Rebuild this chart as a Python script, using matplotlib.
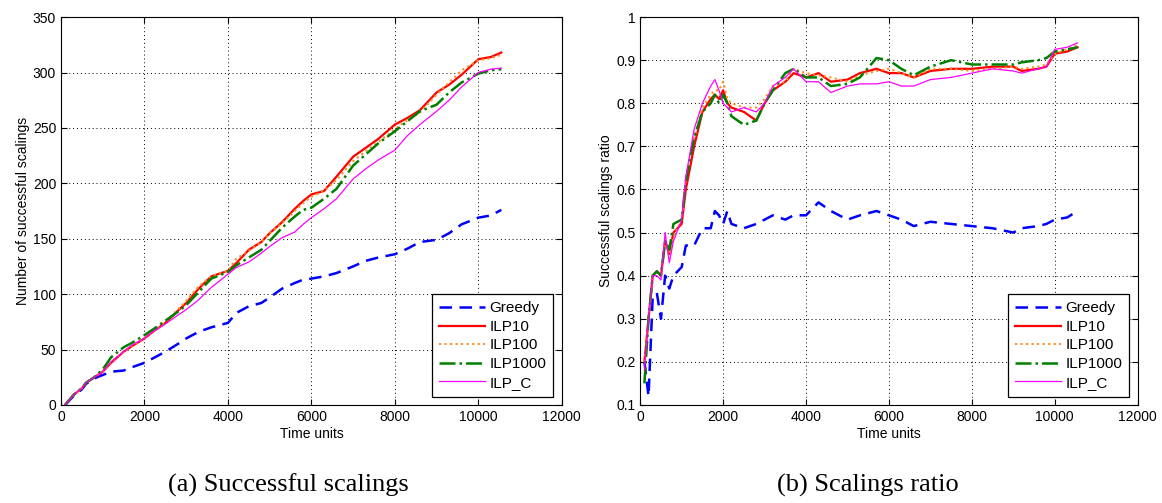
import numpy as np
import matplotlib.pyplot as plt

# values
t_cnt = [100, 300, 500, 600, 800, 1000, 1200, 1500, 1700, 2000, 2200, 2500, 2800, 3000, 3300,
         3600, 4000, 4200, 4500, 4800, 5000, 5300, 5600, 5800, 6000, 6300, 6600, 7000, 7300,
         7600, 8000, 8300, 8600, 9000, 9300, 9600, 10000, 10300, 10550]
greedy_cnt = [0, 8, 14, 19, 24, 27, 30, 31, 34, 38, 42, 48, 55, 60, 66,
              70, 74, 83, 89, 92, 97, 105, 110, 113, 114, 116, 119, 125, 130,
              133, 136, 141, 147, 149, 155, 163, 169, 171, 176]
ilp10_cnt = [0, 9, 15, 20, 25, 30, 38, 48, 53, 60, 66, 74, 85, 92, 105,
             116, 121, 128, 140, 147, 155, 165, 177, 184, 190, 193, 206, 224, 232,
             240, 253, 259, 266, 282, 289, 298, 312, 314, 318]
ilp100_cnt = [0, 9, 15, 20, 25, 30, 39, 48, 53, 60, 66, 75, 86, 94, 107,
              116, 121, 132, 139, 147, 155, 164, 175, 182, 188, 193, 203, 220, 229,
              237, 249, 257, 264, 280, 291, 302, 311, 313, 316]
ilp1000_cnt = [0, 9, 15, 20, 25, 32, 43, 52, 56, 63, 68, 76, 84, 90, 102,
               114, 120, 126, 133, 140, 148, 160, 170, 176, 178, 186, 195, 216, 226,
               236, 247, 256, 265, 271, 282, 291, 299, 302, 303]
ilpc_cnt = [0, 9, 15, 20, 25, 30, 39, 48, 54, 60, 66, 73, 81, 86, 95,
            106, 118, 124, 129, 137, 143, 151, 156, 163, 169, 177, 186, 204, 213,
            221, 230, 243, 253, 265, 275, 287, 300, 303, 304]

t_ratio = [100, 200, 300, 400, 500, 600, 700, 800, 1000, 1100, 1300, 1500, 1700, 1800, 1900,
           2000, 2100, 2200, 2500, 2800, 3000, 3200, 3500, 3700, 4000, 4300, 4600, 5000,
           5300, 5700, 6000, 6300, 6600, 7000, 7500, 8000, 8500, 9000, 9200, 9600, 9800,
           10000, 10300, 10550]
greedy_ratio = [0.20, 0.12, 0.35, 0.36, 0.30, 0.40, 0.37, 0.40, 0.42, 0.47, 0.47, 0.51, 0.51, 0.55, 0.54,
                0.52, 0.55, 0.52, 0.51, 0.52, 0.53, 0.54, 0.53, 0.54, 0.54, 0.57, 0.55, 0.53,
                0.54, 0.55, 0.54, 0.53, 0.515, 0.525, 0.52, 0.515, 0.51, 0.50, 0.51, 0.515, 0.52,
                0.53, 0.535, 0.55]
ilp10_ratio = [0.20, 0.30, 0.40, 0.41, 0.40, 0.48, 0.45, 0.50, 0.52, 0.60, 0.70, 0.78, 0.81, 0.82, 0.81,
               0.83, 0.80, 0.79, 0.78, 0.76, 0.80, 0.83, 0.85, 0.87, 0.86, 0.87, 0.85, 0.855,
               0.87, 0.88, 0.87, 0.87, 0.86, 0.875, 0.88, 0.88, 0.885, 0.885, 0.875, 0.88, 0.885,
               0.915, 0.92, 0.93]
ilp100_ratio = [0.20, 0.30, 0.40, 0.41, 0.40, 0.48, 0.45, 0.49, 0.53, 0.62, 0.72, 0.79, 0.82, 0.83, 0.83,
                0.85, 0.81, 0.80, 0.79, 0.79, 0.81, 0.84, 0.85, 0.88, 0.87, 0.865, 0.86, 0.85,
                0.865, 0.875, 0.88, 0.87, 0.86, 0.88, 0.88, 0.875, 0.88, 0.885, 0.88, 0.885, 0.89,
                0.915, 0.925, 0.935]
ilp1000_ratio = [0.15, 0.30, 0.40, 0.41, 0.40, 0.48, 0.46, 0.52, 0.53, 0.62, 0.72, 0.78, 0.80, 0.82, 0.80,
                 0.82, 0.80, 0.77, 0.75, 0.76, 0.80, 0.83, 0.87, 0.88, 0.86, 0.86, 0.84, 0.845,
                 0.86, 0.905, 0.90, 0.88, 0.865, 0.885, 0.90, 0.89, 0.89, 0.89, 0.895, 0.90, 0.905,
                 0.92, 0.925, 0.93]
ilpc_ratio = [0.18, 0.30, 0.40, 0.40, 0.39, 0.50, 0.43, 0.48, 0.53, 0.63, 0.74, 0.80, 0.84, 0.855, 0.83,
              0.80, 0.79, 0.78, 0.79, 0.78, 0.80, 0.84, 0.86, 0.88, 0.85, 0.85, 0.825, 0.84,
              0.845, 0.845, 0.85, 0.84, 0.84, 0.855, 0.86, 0.87, 0.88, 0.875, 0.87, 0.88, 0.885,
              0.925, 0.93, 0.94]

labels = ['Greedy', 'ILP10', 'ILP100', 'ILP1000', 'ILP_C']
colors = ['#0000ff', '#ff0000', '#ff8c1a', '#008000', '#ff00ff']
styles = [(0, (5, 3)), '-', ':', '-.', '-']
widths = [1.8, 1.6, 1.5, 1.8, 0.9]

plt.rcParams['font.family'] = ['Liberation Sans', 'DejaVu Sans']

fig = plt.figure(figsize=(11.62, 5.03), dpi=100)
ax1 = fig.add_axes([0.0525, 0.195, 0.431, 0.771])
ax2 = fig.add_axes([0.551, 0.195, 0.428, 0.771])


def draw(ax, t, series, ylim, yticks, ylabel):
    for y, lab, c, ls, lw in zip(series, labels, colors, styles, widths):
        ax.plot(t, y, color=c, linestyle=ls, linewidth=lw, label=lab)
    ax.set_xlim(0, 12000)
    ax.set_ylim(*ylim)
    ax.set_xticks(np.arange(0, 12001, 2000))
    ax.set_yticks(yticks)
    ax.grid(True, color='black', linestyle=(0, (1, 3)), linewidth=0.7)
    ax.tick_params(direction='in', top=True, right=True, labelsize=10, length=4)
    ax.set_xlabel('Time units', fontsize=10, labelpad=2)
    ax.set_ylabel(ylabel, fontsize=10, labelpad=2)
    leg = ax.legend(loc='lower right', fontsize=11, fancybox=False, framealpha=1,
                    edgecolor='black', handlelength=3.0, borderaxespad=0.55,
                    labelspacing=0.3, handletextpad=0.3, borderpad=0.45)
    leg.get_frame().set_linewidth(0.9)


draw(ax1, t_cnt, [greedy_cnt, ilp10_cnt, ilp100_cnt, ilp1000_cnt, ilpc_cnt],
     (0, 350), np.arange(0, 351, 50), 'Number of successful scalings')
draw(ax2, t_ratio, [greedy_ratio, ilp10_ratio, ilp100_ratio, ilp1000_ratio, ilpc_ratio],
     (0.1, 1), [0.1, 0.2, 0.3, 0.4, 0.5, 0.6, 0.7, 0.8, 0.9, 1],
     'Successful scalings ratio')
ax2.set_yticklabels(['0.1', '0.2', '0.3', '0.4', '0.5', '0.6', '0.7', '0.8', '0.9', '1'])

fig.text(0.248, 0.022, '(a) Successful scalings', fontsize=19,
         family=['Liberation Serif'], ha='center')
fig.text(0.747, 0.022, '(b) Scalings ratio', fontsize=19,
         family=['Liberation Serif'], ha='center')

fig.savefig('out.png', dpi=100)
